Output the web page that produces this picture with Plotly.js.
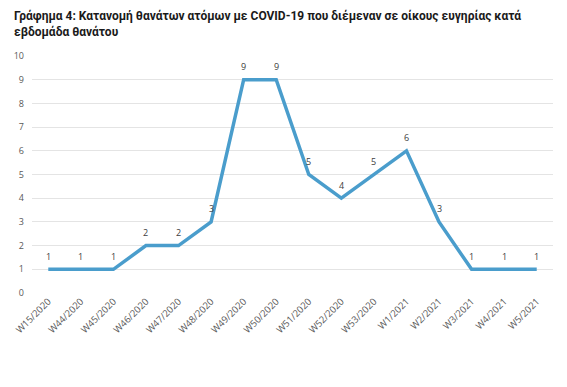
<!DOCTYPE html>
<html><head><meta charset="utf-8">
<script src="https://cdn.plot.ly/plotly-3.0.1.min.js"></script>
<style>html,body{margin:0;padding:0;background:#fff}#c{width:567px;height:387px}</style>
</head><body><div id="c"></div>
<script>
const weeks = ["W15/2020","W44/2020","W45/2020","W46/2020","W47/2020","W48/2020","W49/2020","W50/2020","W51/2020","W52/2020","W53/2020","W1/2021","W2/2021","W3/2021","W4/2021","W5/2021"];
const deaths = [1,1,1,2,2,3,9,9,5,4,5,6,3,1,1,1];
const yTicks = [0,1,2,3,4,5,6,7,8,9,10];

const trace = {
  x: weeks, y: deaths, type: "scatter", mode: "lines",
  line: {color: "#4a9dcc", width: 3.5},
  cliponaxis: false, hoverinfo: "none"
};
const labelAnns = weeks.map((w, i) => ({
  x: w, y: deaths[i], xref: "x", yref: "y", text: String(deaths[i]),
  showarrow: false, yshift: 13, xanchor: "center", yanchor: "middle",
  font: {family: "Open Sans, sans-serif", size: 9, color: "#404040"}
}));
const layout = {
  width: 567, height: 387,
  margin: {l: 32, r: 14, t: 56, b: 94, autoexpand: false},
  paper_bgcolor: "#fff", plot_bgcolor: "#fff",
  showlegend: false,
  xaxis: {type: "category", range: [-0.5, weeks.length - 0.5], tickangle: -45,
          showgrid: false, zeroline: false, showline: false,
          automargin: false, ticks: "",
          tickfont: {family: "Open Sans, sans-serif", size: 9.5, color: "#595959"}},
  yaxis: {range: [0, 10], tickvals: yTicks, showgrid: true, gridcolor: "#e4e4e4", gridwidth: 1,
          zeroline: false, showline: false, ticks: "", automargin: false, ticklabelstandoff: 7,
          tickfont: {family: "Open Sans, sans-serif", size: 9, color: "#595959"}},
  annotations: labelAnns.concat([
    {xref: "paper", yref: "paper", x: -0.038, y: 1, yshift: 49, xanchor: "left", yanchor: "top",
     align: "left", showarrow: false,
     text: "<b>Γράφημα 4: Κατανομή θανάτων ατόμων με COVID-19 που διέμεναν σε οίκους ευγηρίας κατά<br>εβδομάδα θανάτου</b>",
     font: {family: "Roboto, sans-serif", size: 12, color: "#1a1a1a"}}
  ])
};
Plotly.newPlot("c", [trace], layout, {displayModeBar: false, staticPlot: true});
</script></body></html>
